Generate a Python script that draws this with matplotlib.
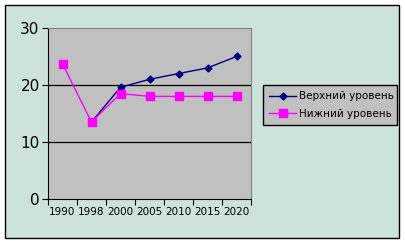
import numpy as np
import matplotlib
matplotlib.use("Agg")
import matplotlib.pyplot as plt
from matplotlib.patches import Rectangle

# ── Data ───────────────────────────────────────────────────────────────────
years = ["1990", "1998", "2000", "2005", "2010", "2015", "2020"]
upper = [np.nan, 13.5, 19.6, 21.0, 22.0, 23.0, 25.0]
lower = [23.7, 13.5, 18.5, 18.0, 18.0, 18.0, 18.0]

BG = "#CCE3DC"

fig = plt.figure(figsize=(4.05, 2.43), dpi=100)
fig.patch.set_facecolor("white")
fig.patches.append(Rectangle((5 / 405, 5 / 243), 394 / 405, 233 / 243,
                             transform=fig.transFigure, facecolor=BG,
                             edgecolor="black", linewidth=1.0, zorder=-5))

ax = fig.add_axes([48 / 405, 44 / 243, 203 / 405, 171 / 243])
ax.set_facecolor("#C0C0C0")

x = np.arange(len(years))
ax.plot(x, upper, color="#000080", marker="D", ms=3.5, lw=1.0,
        label="Верхний уровень", zorder=3)
ax.plot(x, lower, color="#FF00FF", marker="s", ms=6, lw=1.0,
        label="Нижний уровень", zorder=4)

ax.set_xlim(-0.5, len(years) - 0.5)
ax.set_ylim(0, 30)
ax.set_yticks([0, 10, 20, 30])
ax.tick_params(axis="y", labelsize=11, length=4, width=0.8, pad=2)

ax.set_xticks(np.arange(len(years) + 1) - 0.5)
ax.set_xticklabels([])
ax.set_xticks(x, minor=True)
ax.set_xticklabels(years, minor=True, fontsize=7.5)
ax.tick_params(axis="x", which="major", length=4, width=0.8)
ax.tick_params(axis="x", which="minor", length=0, pad=6)

for yv in (10, 20):
    ax.axhline(yv, color="black", lw=0.9, zorder=1)

for s in ("top", "right"):
    ax.spines[s].set_color("#808080")
for s in ("left", "bottom"):
    ax.spines[s].set_color("black")

leg = fig.legend(loc="upper left", bbox_to_anchor=(263 / 405, 158 / 243, 134 / 405, 0),
                 mode="expand", fontsize=7.5, frameon=True, fancybox=False,
                 handlelength=2.6, handletextpad=0.3, borderaxespad=0,
                 borderpad=0.6, labelspacing=0.75)
leg.get_frame().set_facecolor("#C0C0C0")
leg.get_frame().set_edgecolor("black")
leg.get_frame().set_alpha(1)

fig.savefig("out.png", dpi=100)
